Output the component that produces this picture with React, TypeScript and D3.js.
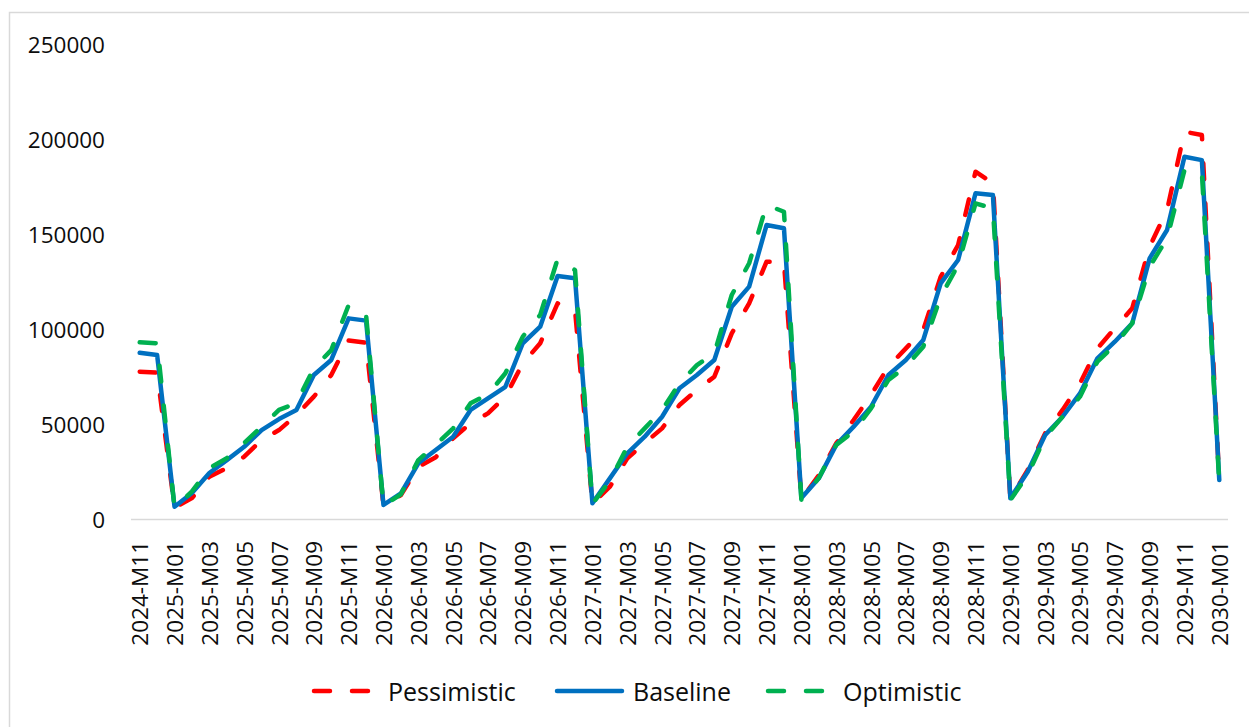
import React from "react";
import * as d3 from "d3";

const startYear = 2024;
const startMonth = 11;
const nMonths = 63;
const categories: string[] = d3.range(nMonths).map((i) => {
  const m0 = startMonth - 1 + i;
  const y = startYear + Math.floor(m0 / 12);
  const m = (m0 % 12) + 1;
  return `${y}-M${m < 10 ? "0" + m : m}`;
});

const pessimistic = [
  77500, 77000, 6000, 11000, 22300, 26800, 32800, 41600, 46800, 54700, 64400, 75800, 93900, 92800,
  7000, 12600, 27500, 32500, 42500, 50400, 55600, 64400, 81900, 92500, 113500, 110000,
  8000, 17000, 31900, 40000, 47700, 60000, 67900, 74900, 97700, 113500, 135400, 135000,
  10500, 23000, 39800, 52100, 65300, 80200, 89800, 99500, 127500, 144200, 182800, 176700,
  10500, 25800, 45100, 57400, 71400, 89800, 100400, 110900, 143300, 162600, 203800, 202100,
  20000,
];

const baseline = [
  87500, 86300, 6500, 13700, 24200, 31000, 38000, 46800, 52600, 57400, 75800, 83700, 105600, 104400,
  7400, 13500, 29300, 36300, 43300, 57400, 63500, 69600, 92500, 101200, 127900, 126700,
  8300, 21400, 34600, 43300, 53800, 68800, 75800, 83700, 111700, 122300, 154700, 153000,
  11000, 21400, 39000, 48600, 59100, 75800, 83700, 94200, 124000, 136300, 171400, 170500,
  10900, 24900, 44200, 53800, 66100, 84600, 93300, 103000, 137200, 152100, 190700, 188900,
  20500,
];

const optimistic = [
  93000, 92500, 6000, 14500, 26800, 32000, 40000, 48600, 57400, 61000, 79400, 88900, 112600, 107400,
  7000, 13000, 31000, 39000, 47700, 60900, 65600, 76700, 96000, 107400, 136800, 131000,
  8000, 20000, 38000, 47700, 57400, 71400, 81000, 87200, 117900, 134600, 165300, 161700,
  10000, 21600, 39000, 46000, 58200, 73200, 80200, 90700, 117000, 133700, 166100, 163500,
  10000, 23200, 43300, 53800, 64400, 82800, 91600, 103000, 132800, 147700, 183700, 182300,
  18900,
];

const yTicks = [0, 50000, 100000, 150000, 200000, 250000];

const seriesNames = ["Pessimistic", "Baseline", "Optimistic"];
const seriesColors = ["#FF0000", "#0070C0", "#00B050"];
const seriesDash = ["16 24", "", "16 24"];

const FONT = "'Open Sans', 'Noto Sans', sans-serif";

export default function App() {
  const W = 1249;
  const H = 727;
  const x = d3.scaleBand<string>().domain(categories).range([131, 1228]).padding(0);
  const cx = (c: string) => (x(c) as number) + x.bandwidth() / 2;
  const y = d3.scaleLinear().domain([0, 250000]).range([519, 44]);

  const line = d3
    .line<number>()
    .x((_, i) => cx(categories[i]))
    .y((d) => y(d));

  const data = [pessimistic, baseline, optimistic];

  const legendItems = [
    { x1: 314, x2: 370, tx: 388 },
    { x1: 557, x2: 622, tx: 633 },
    { x1: 768, x2: 824, tx: 843 },
  ];
  const legendY = 691;

  return (
    <svg
      width={W}
      height={H}
      style={{ position: "absolute", left: 0, top: 0, background: "#fff" }}
      fontFamily={FONT}
    >
      <rect x={0} y={0} width={W} height={H} fill="#fff" />
      <rect x={9.5} y={12.5} width={1400} height={900} fill="none" stroke="#d9d9d9" strokeWidth={1.5} />

      {yTicks.map((t) => (
        <text
          key={t}
          x={105}
          y={y(t)}
          textAnchor="end"
          dominantBaseline="central"
          fontSize={22.5}
          fill="#0d0d0d"
        >
          {t}
        </text>
      ))}

      <line x1={131} x2={1228} y1={y(0) + 0.5} y2={y(0) + 0.5} stroke="#d9d9d9" strokeWidth={1.5} />

      {categories.map((c, i) =>
        i % 2 === 0 ? (
          <text
            key={c}
            transform={`translate(${cx(c)},541) rotate(-90)`}
            textAnchor="end"
            dominantBaseline="central"
            fontSize={22.5}
            fill="#0d0d0d"
          >
            {c}
          </text>
        ) : null
      )}

      {data.map((d, k) => (
        <path
          key={seriesNames[k]}
          d={line(d) as string}
          fill="none"
          stroke={seriesColors[k]}
          strokeWidth={4.5}
          strokeDasharray={seriesDash[k] || undefined}
          strokeLinecap="round"
          strokeLinejoin="round"
        />
      ))}

      {seriesNames.map((name, k) => (
        <g key={name}>
          <line
            x1={legendItems[k].x1}
            x2={legendItems[k].x2}
            y1={legendY}
            y2={legendY}
            stroke={seriesColors[k]}
            strokeWidth={4.5}
            strokeDasharray={seriesDash[k] ? "16 22" : undefined}
            strokeLinecap="round"
          />
          <text
            x={legendItems[k].tx}
            y={legendY}
            dominantBaseline="central"
            fontSize={25}
            fill="#0d0d0d"
          >
            {name}
          </text>
        </g>
      ))}
    </svg>
  );
}
